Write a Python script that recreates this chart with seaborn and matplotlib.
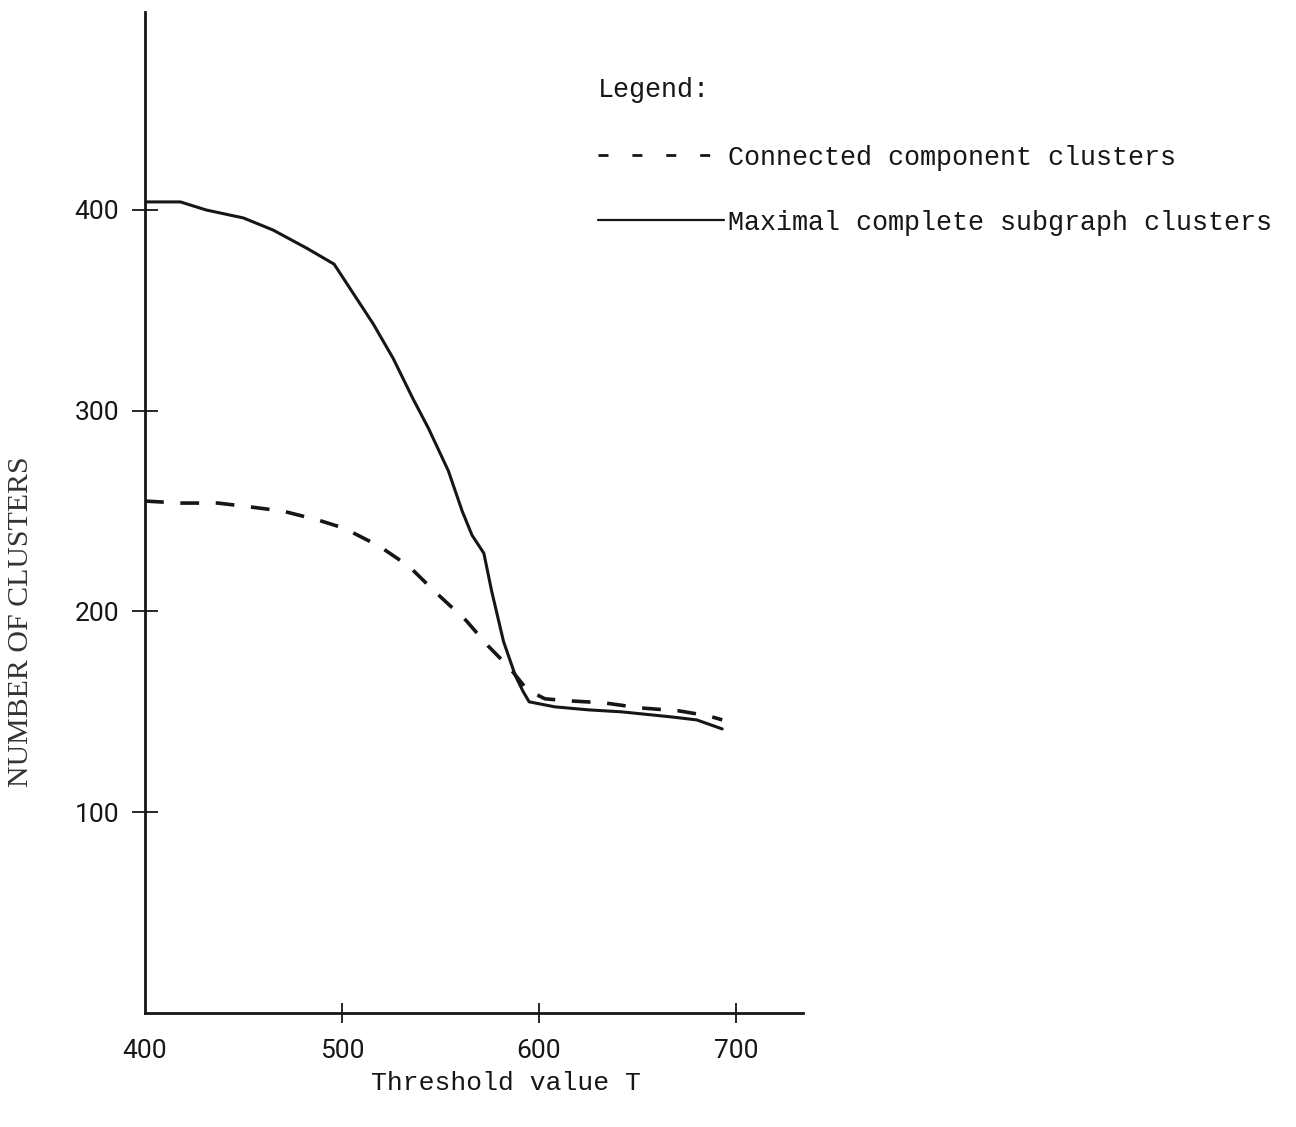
import matplotlib
matplotlib.use("Agg")
import matplotlib.pyplot as plt
from matplotlib.lines import Line2D
import seaborn as sns
import pandas as pd

# ---- data ----
t_connected = [400, 418, 437, 454, 470, 488, 501, 519, 534, 547, 563, 574, 585,
               594, 603, 615, 633, 651, 671, 686, 693]
n_connected = [255, 254, 254, 252, 250, 245.5, 241.5, 232.5, 222.5, 210, 195.5,
               183, 172, 161, 156.5, 155.5, 154.5, 152, 150.5, 148, 146]

t_maximal = [400, 418, 431, 450, 465, 482, 496, 506, 516, 526, 536, 544, 554,
             561, 566, 572, 576, 582, 588, 592, 595, 608, 625, 642, 667, 680, 693]
n_maximal = [404, 404, 400, 396, 390, 381, 373, 358, 343, 326, 306, 291, 270,
             250, 238, 229, 210, 185, 168, 160, 155, 152.5, 151, 150, 147.5, 146, 141.5]

x_ticks = [400, 500, 600, 700]
y_ticks = [100, 200, 300, 400]
x_label = "Threshold value T"
y_label = "NUMBER OF CLUSTERS"
legend_title = "Legend:"
label_connected = "Connected component clusters"
label_maximal = "Maximal complete subgraph clusters"

df_c = pd.DataFrame({"T": t_connected, "N": n_connected})
df_m = pd.DataFrame({"T": t_maximal, "N": n_maximal})

sns.set_style("white")
mono = ["Liberation Mono", "DejaVu Sans Mono"]
digits = ["Roboto", "DejaVu Sans"]
serif = ["Liberation Serif", "DejaVu Serif"]
plt.rcParams["font.family"] = mono

W, H = 1296, 1127
fig = plt.figure(figsize=(W / 100, H / 100), dpi=100)
fig.patch.set_facecolor("white")
ax = fig.add_axes([145 / W, 114 / H, 658 / W, 1001 / H])
ax.set_facecolor("white")

ink = "#161616"
sns.lineplot(data=df_m, x="T", y="N", ax=ax, color=ink, lw=2.2, sort=False,
             estimator=None)
sns.lineplot(data=df_c, x="T", y="N", ax=ax, color=ink, lw=2.6, sort=False,
             estimator=None)
ax.lines[1].set_dashes((5.2, 4.6))

ax.set_xlim(400, 734)
ax.set_ylim(0, 498.6)

for s in ["top", "right"]:
    ax.spines[s].set_visible(False)
for s in ["left", "bottom"]:
    ax.spines[s].set_linewidth(2.0)
    ax.spines[s].set_color(ink)

ax.set_xticks(x_ticks)
ax.set_xticklabels([str(v) for v in x_ticks])
ax.set_yticks(y_ticks)
ax.set_yticklabels([str(v) for v in y_ticks])
ax.tick_params(axis="y", direction="inout", length=19, width=1.3, color=ink,
               pad=9, labelsize=19, labelcolor=ink, left=True)
ax.tick_params(axis="x", direction="inout", length=15, width=1.3, color=ink,
               pad=11, labelsize=19, labelcolor=ink, bottom=True)
for lab in ax.get_xticklabels() + ax.get_yticklabels():
    lab.set_family(digits)
ax.xaxis.get_major_ticks()[0].tick1line.set_visible(False)

ax.set_xlabel(x_label, fontsize=19, color=ink, family=mono)
ax.xaxis.set_label_coords((506 - 145) / 658, -(1071 - 1013) / 1001)
ax.set_ylabel(y_label, fontsize=21.5, color="#333333", family=serif)
ax.yaxis.set_label_coords((34 - 145) / 658, (1013 - 622) / 1001)
ax.grid(False)

handles = [Line2D([0], [0], color=ink, lw=2.0, dashes=(3.6, 8.6)),
           Line2D([0], [0], color=ink, lw=1.6)]
leg = fig.legend(handles, [label_connected, label_maximal], title=legend_title,
                 loc="upper left", bbox_to_anchor=(598 / W, 1 - 77 / H),
                 frameon=False, borderpad=0, borderaxespad=0,
                 handlelength=4.7, handletextpad=0.15, labelspacing=1.45,
                 alignment="left", prop={"family": mono, "size": 19.3},
                 title_fontproperties={"family": mono, "size": 19.3})
leg._legend_box.sep = 30
for txt in leg.get_texts():
    txt.set_color(ink)
leg.get_title().set_color(ink)

fig.savefig("out.png", dpi=100, facecolor="white")
